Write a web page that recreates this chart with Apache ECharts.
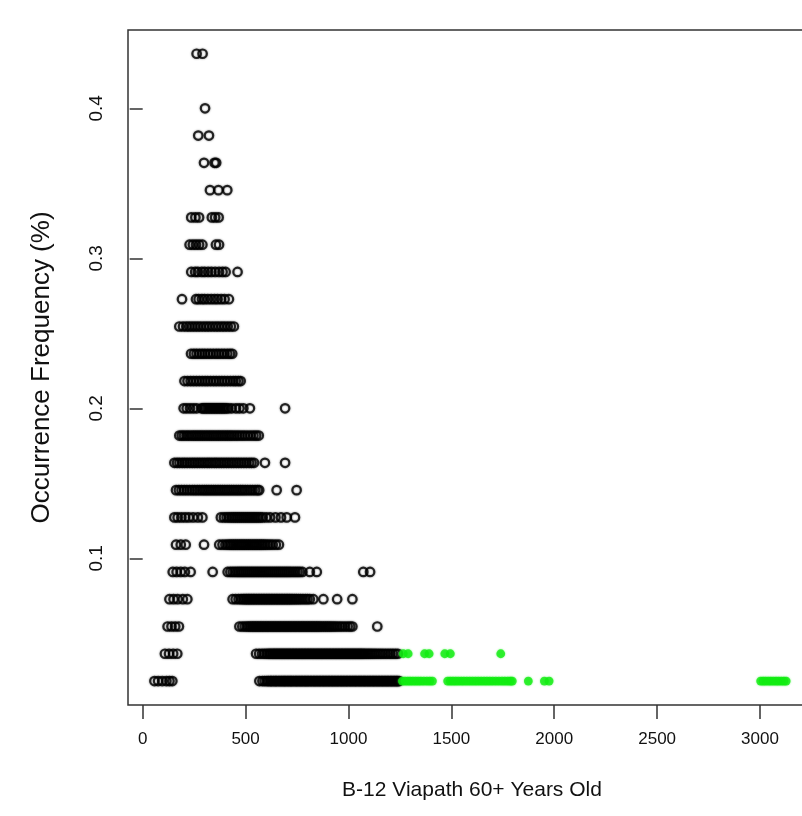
<!DOCTYPE html>
<html><head><meta charset="utf-8">
<script src="https://cdn.jsdelivr.net/npm/echarts@6/dist/echarts.min.js"></script>
<style>html,body{margin:0;padding:0;background:#fff}#c{width:802px;height:816px}</style>
</head><body><div id="c"></div>
<script>
// Occurrence frequency (%) of each row of points
const freqLevels = [0.01818, 0.03636, 0.05455, 0.07273, 0.09091, 0.10909, 0.12727, 0.14545,
  0.16364, 0.18182, 0.2, 0.21818, 0.23636, 0.25455, 0.27273, 0.29091, 0.30909, 0.32727,
  0.34545, 0.36364, 0.38182, 0.4, 0.41818, 0.43636];
const xTicks = [0, 500, 1000, 1500, 2000, 2500, 3000];
const yTicks = [0.1, 0.2, 0.3, 0.4];
const xTitle = 'B-12 Viapath 60+ Years Old';
const yTitle = 'Occurrence Frequency (%)';

// B-12 values (black, hollow) for each frequency level
const b01 = [57, 75, 95, 115, 130, 144,
  567, 582, 593, 604, 612, 621, 627, 636, 644, 650, 659, 667, 674, 682, 689, 696, 704, 711, 719, 725,
  733, 741, 748, 755, 763, 770, 777, 785, 792, 799, 806, 814, 821, 829, 836, 843, 851, 858, 865, 873,
  880, 887, 895, 902, 909, 917, 924, 931, 939, 946, 953, 961, 968, 975, 983, 990, 997, 1005, 1012, 1019,
  1027, 1034, 1041, 1049, 1056, 1063, 1071, 1078, 1085, 1093, 1100, 1107, 1115, 1122, 1129, 1137, 1144,
  1151, 1159, 1166, 1173, 1181, 1188, 1195, 1203, 1210, 1217, 1225, 1232, 1239, 1246];
const b02 = [108, 128, 148, 168,
  551, 566, 580, 592, 603, 612, 620, 628, 636, 643, 651, 658, 666, 673, 681, 688, 696, 703, 711, 718,
  726, 733, 741, 748, 756, 763, 771, 778, 786, 793, 801, 808, 816, 823, 831, 838, 846, 853, 861, 868,
  876, 883, 891, 898, 906, 913, 921, 928, 936, 943, 951, 958, 966, 973, 981, 988, 996, 1003, 1011, 1018,
  1026, 1033, 1041, 1048, 1056, 1063, 1071, 1079, 1088, 1097, 1106, 1115, 1125, 1135, 1146, 1157, 1168,
  1180, 1192, 1204, 1216, 1228, 1240];
const b03 = [121, 140, 158, 176,
  470, 484, 496, 507, 516, 525, 533, 541, 549, 557, 565, 573, 581, 589, 597, 605, 613, 621, 629, 637,
  645, 653, 661, 669, 677, 685, 693, 701, 709, 717, 725, 733, 741, 749, 757, 765, 773, 781, 789, 797,
  805, 813, 821, 829, 837, 845, 853, 861, 870, 879, 888, 897, 906, 915, 925, 935, 946, 958, 970, 983,
  996, 1008, 1019, 1140];
const b04 = [130, 150, 170, 195, 217,
  437, 452, 466, 478, 488, 497, 505, 513, 521, 529, 537, 545, 553, 561, 569, 577, 585, 593, 601, 609,
  617, 625, 633, 641, 649, 657, 665, 673, 681, 689, 697, 705, 713, 721, 730, 739, 748, 758, 768, 779,
  790, 801, 812, 829, 878, 945, 1019];
const b05 = [146, 165, 185, 205, 233, 340,
  413, 426, 438, 449, 460, 470, 480, 490, 500, 510, 520, 530, 540, 550, 560, 570, 580, 590, 600, 610,
  620, 630, 640, 650, 660, 670, 680, 690, 700, 710, 720, 731, 742, 753, 764, 776, 812, 846, 1072, 1105];
const b06 = [162, 185, 209, 298,
  372, 388, 402, 414, 424, 433, 442, 451, 460, 469, 478, 487, 496, 505, 514, 523, 532, 541, 550, 559,
  568, 577, 586, 596, 607, 619, 632, 647, 662];
const b07 = [154, 170, 188, 206, 224, 245, 268, 290,
  380, 395, 408, 420, 431, 441, 451, 461, 471, 481, 491, 501, 511, 521, 531, 541, 551, 561, 572, 583,
  600, 619, 645, 672, 700, 740];
const b08 = [162, 176, 189, 202, 215, 228, 241, 253, 265, 277, 289, 300, 311, 322, 333, 344, 355, 366,
  377, 388, 399, 410, 421, 432, 443, 454, 465, 476, 487, 498, 510, 522, 534, 546, 558, 566, 651, 748];
const b09 = [154, 167, 179, 192, 204, 216, 229, 241, 253, 265, 277, 289, 301, 313, 324, 336, 348, 359,
  371, 383, 395, 407, 419, 431, 443, 455, 467, 479, 492, 504, 517, 529, 541, 594, 692];
const b10 = [178, 190, 201, 213, 224, 236, 247, 258, 269, 280, 291, 302, 313, 324, 335, 346, 357, 368,
  379, 390, 401, 412, 423, 434, 446, 458, 470, 483, 496, 510, 524, 538, 551, 564];
const b11 = [199, 214, 230, 246, 262, 286, 294, 302, 310, 318, 326, 334, 342, 350, 358, 366, 374, 382,
  390, 398, 406, 416, 432, 453, 470, 489, 521, 692];
const b12 = [203, 218, 233, 247, 261, 275, 289, 303, 316, 330, 344, 357, 371, 385, 398, 412, 426, 440,
  452, 465, 476];
const b13 = [235, 249, 262, 276, 289, 302, 316, 329, 343, 357, 370, 384, 397, 411, 424, 435];
const b14 = [178, 196, 212, 226, 240, 254, 268, 282, 297, 311, 325, 340, 355, 369, 384, 398, 413, 428, 443];
const b15 = [191, 259, 272, 288, 301, 317, 333, 349, 364, 381, 398, 419];
const b16 = [236, 255, 268, 287, 301, 318, 334, 352, 371, 388, 403, 461];
const b17 = [228, 244, 259, 274, 290, 356, 371];
const b18 = [236, 256, 274, 336, 352, 369];
const b19 = [327, 368, 411];
const b20 = [298, 349, 357];
const b21 = [270, 322];
const b22 = [303];
const b23 = [];
const b24 = [262, 291];

// B-12 values above the threshold (green, filled)
const g01 = [1262, 1275, 1288, 1300, 1313, 1326, 1339, 1352, 1366, 1381, 1395, 1408,
  1482, 1495, 1508, 1521, 1534, 1548, 1561, 1575, 1589, 1603, 1617, 1631, 1645, 1659, 1673, 1687,
  1701, 1716, 1731, 1746, 1760, 1774, 1787, 1796, 1874, 1952, 1975,
  3003, 3015, 3027, 3040, 3052, 3065, 3078, 3090, 3103, 3116, 3127];
const g02 = [1266, 1290, 1370, 1392, 1468, 1495, 1740];

const blackRows = [b01, b02, b03, b04, b05, b06, b07, b08, b09, b10, b11, b12,
  b13, b14, b15, b16, b17, b18, b19, b20, b21, b22, b23, b24];
const greenRows = [g01, g02];

const blackData = [];
blackRows.forEach((row, i) => row.forEach(x => blackData.push([x, freqLevels[i]])));
const greenData = [];
greenRows.forEach((row, i) => row.forEach(x => greenData.push([x, freqLevels[i]])));

const chart = echarts.init(document.getElementById('c'), null, {renderer: 'canvas'});
const axisCol = '#333';
const fontF = "'Liberation Sans', Arial, sans-serif";
chart.setOption({
  animation: false,
  backgroundColor: '#fff',
  grid: {left: 128, right: -14, top: 30, bottom: 111, show: true,
    borderColor: axisCol, borderWidth: 1.5, backgroundColor: 'transparent',
    outerBoundsMode: 'none', containLabel: false},
  xAxis: {
    type: 'value', min: -71.4, max: 3272,
    axisLine: {show: false},
    splitLine: {show: false},
    axisTick: {show: true, length: 14, inside: false, customValues: xTicks,
      lineStyle: {color: axisCol, width: 1.5}},
    axisLabel: {customValues: xTicks, margin: 26, color: '#111', fontSize: 17,
      fontFamily: fontF, formatter: v => String(v)},
    name: xTitle, nameLocation: 'middle', nameGap: 75,
    nameTextStyle: {color: '#111', fontSize: 21, fontFamily: fontF}
  },
  yAxis: {
    type: 'value', min: 0.0022, max: 0.4522,
    axisLine: {show: false},
    splitLine: {show: false},
    axisTick: {show: true, length: 13, inside: false, customValues: yTicks,
      lineStyle: {color: axisCol, width: 1.5}},
    axisLabel: {customValues: yTicks, rotate: 90, margin: 22, color: '#111', fontSize: 19,
      fontFamily: fontF, formatter: v => String(v)},
    name: yTitle, nameLocation: 'middle', nameGap: 73, nameRotate: 90,
    nameTextStyle: {color: '#111', fontSize: 26, fontFamily: fontF}
  },
  series: [
    {type: 'scatter', data: blackData, symbol: 'circle', symbolSize: 8.5, silent: true,
      itemStyle: {color: 'rgba(0,0,0,0)', borderColor: '#000', borderWidth: 2.2,
        shadowBlur: 2, shadowColor: 'rgba(0,0,0,0.6)'}},
    {type: 'scatter', data: greenData, symbol: 'circle', symbolSize: 8.8, silent: true,
      itemStyle: {color: '#12ec12', shadowBlur: 2, shadowColor: 'rgba(18,236,18,0.6)'}}
  ]
});
</script>
</body></html>
